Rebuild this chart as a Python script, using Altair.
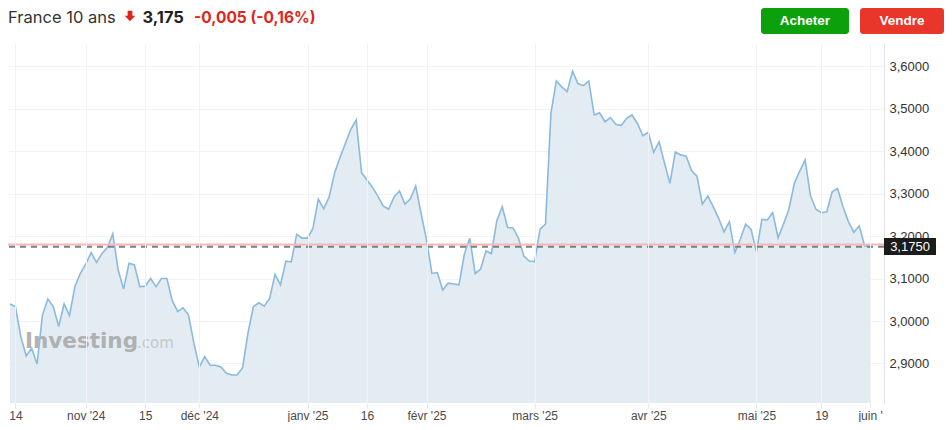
import altair as alt
import pandas as pd

# ---------------- data ----------------
title_name = "France 10 ans"
last_text = "3,175"
change_abs = "-0,005"
change_pct = "(-0,16%)"
badge_text = "3,1750"
LAST = 3.175
PREV_CLOSE = 3.180

yields = [
    3.040, 3.034, 2.963, 2.918, 2.936, 2.899, 3.014, 3.052, 3.034, 2.987,
    3.040, 3.013, 3.081, 3.112, 3.134, 3.161, 3.138, 3.159, 3.173, 3.205,
    3.120, 3.075, 3.136, 3.132, 3.081, 3.082, 3.100, 3.081, 3.100, 3.100,
    3.048, 3.022, 3.031, 3.014, 2.948, 2.892, 2.916, 2.896, 2.896, 2.892,
    2.877, 2.873, 2.873, 2.890, 2.972, 3.034, 3.043, 3.035, 3.053, 3.110,
    3.085, 3.141, 3.139, 3.204, 3.195, 3.195, 3.218, 3.287, 3.264, 3.292,
    3.348, 3.385, 3.418, 3.451, 3.473, 3.349, 3.332, 3.315, 3.294, 3.271,
    3.263, 3.292, 3.306, 3.275, 3.287, 3.318, 3.253, 3.191, 3.112, 3.114,
    3.073, 3.089, 3.087, 3.085, 3.157, 3.195, 3.112, 3.122, 3.165, 3.159,
    3.236, 3.269, 3.220, 3.219, 3.195, 3.153, 3.141, 3.140, 3.216, 3.228,
    3.489, 3.565, 3.551, 3.540, 3.588, 3.559, 3.554, 3.565, 3.485, 3.490,
    3.469, 3.479, 3.463, 3.460, 3.477, 3.485, 3.465, 3.436, 3.444, 3.397,
    3.422, 3.372, 3.324, 3.398, 3.391, 3.388, 3.354, 3.341, 3.275, 3.294,
    3.269, 3.242, 3.210, 3.234, 3.161, 3.192, 3.228, 3.216, 3.163, 3.239,
    3.238, 3.255, 3.196, 3.228, 3.263, 3.324, 3.353, 3.379, 3.294, 3.263,
    3.255, 3.257, 3.304, 3.312, 3.269, 3.234, 3.209, 3.224, 3.177, 3.175,
]

tick_idx = [1, 14, 25, 35, 55, 66, 77, 97, 118, 138, 150, 159]
tick_labels = ["14", "nov '24", "15", "déc '24", "janv '25", "16", "févr '25",
               "mars '25", "avr '25", "mai '25", "19", "juin '"]
y_ticks = [2.9, 3.0, 3.1, 3.2, 3.3, 3.4, 3.5, 3.6]
y_domain = [2.807, 3.652]
x_domain = [-0.37, 161.58]

df = pd.DataFrame({"idx": list(range(len(yields))), "v": yields})

# ---------------- layout ----------------
W, H = 876, 359
LINE_COL = "#8cbadd"
AREA_COL = "#e3ecf3"
RED = "#e0241b"
LABEL_FONT = "Liberation Sans"

idx_list = "[" + ",".join(str(i) for i in tick_idx) + "]"
lab_list = "[" + ",".join('"' + s + '"' for s in tick_labels) + "]"
x_label_expr = f"{lab_list}[indexof({idx_list}, datum.value)]"

xscale = alt.Scale(domain=x_domain, nice=False, zero=False)
yscale = alt.Scale(domain=y_domain, nice=False, zero=False)

xaxis = alt.Axis(
    values=tick_idx, labelExpr=x_label_expr, title=None,
    grid=True, gridColor="#f0f2f5", gridWidth=1,
    domain=False, ticks=True, tickColor="#e8e8e8", tickSize=5,
    labelFont=LABEL_FONT, labelFontSize=12, labelColor="#4a4a4a",
    labelPadding=2, labelFlush=False, labelOverlap=False,
    zindex=1, labelBaseline="top",
)
yaxis = alt.Axis(
    orient="right", values=y_ticks, title=None,
    labelExpr="replace(format(datum.value, '.4f'), '.', ',')",
    grid=True, gridColor="#f3f3f3", gridWidth=1,
    domain=True, domainColor="#e0e3eb", domainWidth=1,
    ticks=False, labelPadding=5,
    labelFont=LABEL_FONT, labelFontSize=13, labelColor="#333333",
    labelFlush=False, labelOverlap=False,
)

base = alt.Chart(df)

area = base.mark_area(color=AREA_COL, opacity=1, clip=True).encode(
    x=alt.X("idx:Q", scale=xscale, axis=xaxis),
    y=alt.Y("v:Q", scale=yscale, axis=yaxis),
    y2=alt.datum(y_domain[0]),
)

line = base.mark_line(color=LINE_COL, strokeWidth=1.6).encode(
    x=alt.X("idx:Q", scale=xscale),
    y=alt.Y("v:Q", scale=yscale),
)

one = alt.Chart(pd.DataFrame({"a": [0]}))

prev_rule = one.mark_rule(color="#f6b8b8", strokeWidth=2).encode(
    y=alt.datum(PREV_CLOSE, scale=yscale)
)
last_rule = one.mark_rule(color="#7f7f7f", strokeWidth=2, strokeDash=[6, 5]).encode(
    y=alt.datum(LAST, scale=yscale)
)

badge = one.mark_rect(color="#1c1c1c").encode(
    x=alt.value(W), x2=alt.value(W + 52),
    y=alt.datum(LAST + 0.0205, scale=yscale), y2=alt.datum(LAST - 0.0195),
)
badge_txt = one.mark_text(
    color="white", font=LABEL_FONT, fontSize=13, align="center", baseline="middle"
).encode(x=alt.value(W + 26), y=alt.datum(LAST, scale=yscale), text=alt.value(badge_text))

wm1 = one.mark_text(
    color="#aaaaaa", font="DejaVu Sans", fontSize=21.5, fontWeight="bold",
    align="left", baseline="alphabetic", opacity=0.9,
).encode(x=alt.value(17), y=alt.value(304), text=alt.value("Investing"))
wm2 = one.mark_text(
    color="#c4c4c4", font="DejaVu Sans", fontSize=15,
    align="left", baseline="alphabetic", opacity=0.9,
).encode(x=alt.value(129), y=alt.value(304), text=alt.value(".com"))

TY = -26
t_name = one.mark_text(
    color="#333333", font="Inter", fontSize=16.5, align="left", baseline="middle"
).encode(x=alt.value(0), y=alt.value(TY), text=alt.value(title_name))
arrow = one.mark_point(
    shape="M-0.45,-1 L0.45,-1 L0.45,-0.05 L1,-0.05 L0,1 L-1,-0.05 L-0.45,-0.05 Z",
    filled=True, color=RED, size=110, opacity=1, strokeWidth=0,
).encode(x=alt.value(122), y=alt.value(TY - 2))
t_last = one.mark_text(
    color="#222222", font="Inter", fontSize=16.5, fontWeight="bold",
    align="left", baseline="middle",
).encode(x=alt.value(134.5), y=alt.value(TY), text=alt.value(last_text))
t_chg = one.mark_text(
    color=RED, font="Inter", fontSize=15.5, fontWeight="bold",
    align="left", baseline="middle",
).encode(x=alt.value(186), y=alt.value(TY), text=alt.value(change_abs))
t_pct = one.mark_text(
    color=RED, font="Inter", fontSize=15.5, fontWeight="bold",
    align="left", baseline="middle",
).encode(x=alt.value(242.5), y=alt.value(TY), text=alt.value(change_pct))

btn_buy = one.mark_rect(color="#0ca10c", cornerRadius=3).encode(
    x=alt.value(753), x2=alt.value(841), y=alt.value(-36), y2=alt.value(-10)
)
btn_sell = one.mark_rect(color="#e8362a", cornerRadius=3).encode(
    x=alt.value(852), x2=alt.value(936), y=alt.value(-36), y2=alt.value(-10)
)
btn_buy_t = one.mark_text(
    color="white", font=LABEL_FONT, fontSize=13.5, fontWeight="bold",
    align="center", baseline="middle",
).encode(x=alt.value(797), y=alt.value(-23), text=alt.value("Acheter"))
btn_sell_t = one.mark_text(
    color="white", font=LABEL_FONT, fontSize=13.5, fontWeight="bold",
    align="center", baseline="middle",
).encode(x=alt.value(894), y=alt.value(-23), text=alt.value("Vendre"))

chart = alt.layer(
    area, wm1, wm2, line, prev_rule, last_rule, badge, badge_txt,
    t_name, arrow, t_last, t_chg, t_pct, btn_buy, btn_sell, btn_buy_t, btn_sell_t,
).properties(
    width=W, height=H,
    autosize=alt.AutoSizeParams(type="none"),
    padding={"left": 0, "top": 36, "right": 60, "bottom": 19},
    background="white",
).configure_view(strokeWidth=0)

chart.save("out.html", embed_options={"renderer": "svg", "actions": False})
